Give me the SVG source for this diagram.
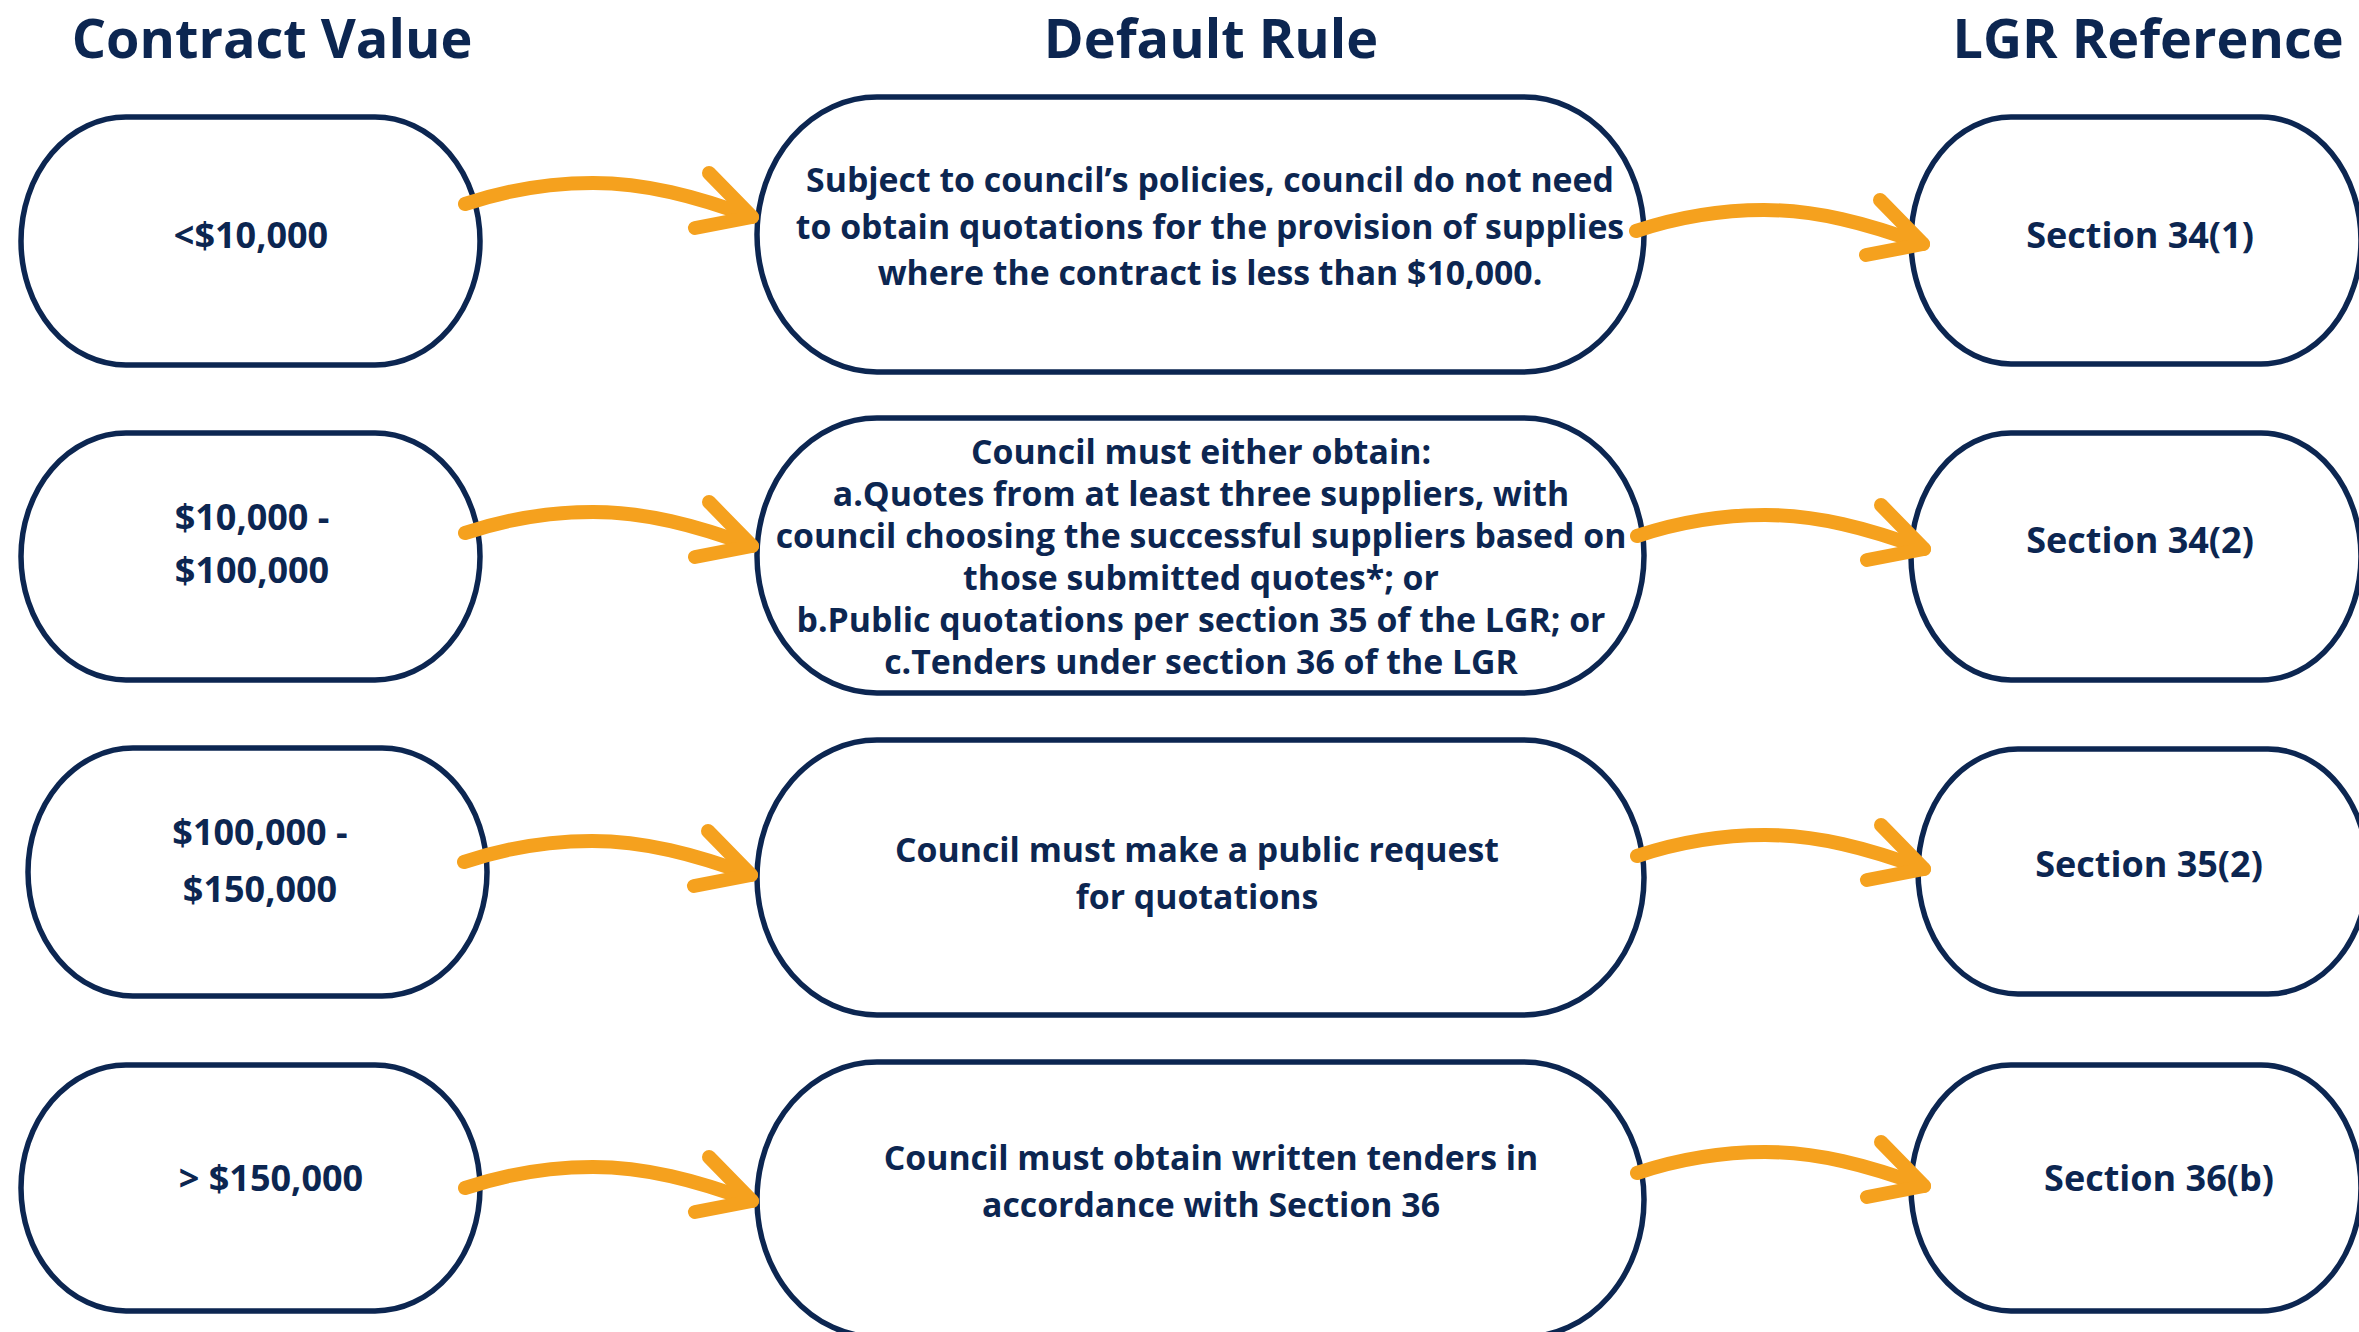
<svg xmlns="http://www.w3.org/2000/svg" width="2359" height="1332" viewBox="0 0 2359 1332">
<defs>
<style>
.bg{fill:#ffffff}
.node{fill:#ffffff;stroke:#0c2651;stroke-width:5.5}
.t{font-family:"Open Sans","Noto Sans","Liberation Sans",sans-serif;font-weight:700;fill:#0c2651;text-anchor:middle}
.title{font-size:54px}
.side{font-size:36px}
.mid{font-size:33.8px}
.arr{fill:none;stroke:#f5a11e;stroke-width:14;stroke-linecap:round;stroke-linejoin:round}
</style>
<g id="arrow-shape">
<path class="arr" d="M0,0 C45,-15 90,-21 128,-21 C180,-21 230,-8 287,13"/>
<path class="arr" d="M244,-31 L287,13 L230,24"/>
</g>
</defs>
<rect class="bg" x="0" y="0" width="2359" height="1332"/>

<g id="titles">
<text class="t title" x="272" y="58">Contract Value</text>
<text class="t title" x="1211" y="58">Default Rule</text>
<text class="t title" x="2148" y="58">LGR Reference</text>
</g>

<g id="value-1">
<rect class="node" x="21" y="117" width="459" height="248" rx="105" ry="124"/>
<text class="t side" x="251" y="248">&lt;$10,000</text>
</g>
<g id="rule-1">
<rect class="node" x="757" y="97" width="887" height="275" rx="120" ry="137.5"/>
<text class="t mid" x="1210" y="192">Subject to council’s policies, council do not need</text>
<text class="t mid" x="1210" y="239">to obtain quotations for the provision of supplies</text>
<text class="t mid" x="1210" y="285">where the contract is less than $10,000.</text>
</g>
<g id="ref-1">
<rect class="node" x="1911" y="117" width="450" height="247" rx="100" ry="123.5"/>
<text class="t side" x="2140" y="248">Section 34(1)</text>
</g>

<g id="value-2">
<rect class="node" x="21" y="433" width="459" height="247" rx="105" ry="123.5"/>
<text class="t side" x="252" y="530">$10,000 -</text>
<text class="t side" x="252" y="583">$100,000</text>
</g>
<g id="rule-2">
<rect class="node" x="757" y="418" width="887" height="275" rx="120" ry="137.5"/>
<text class="t mid" x="1201" y="464">Council must either obtain:</text>
<text class="t mid" x="1201" y="506">a.Quotes from at least three suppliers, with</text>
<text class="t mid" x="1201" y="548">council choosing the successful suppliers based on</text>
<text class="t mid" x="1201" y="590">those submitted quotes*; or</text>
<text class="t mid" x="1201" y="632">b.Public quotations per section 35 of the LGR; or</text>
<text class="t mid" x="1201" y="674">c.Tenders under section 36 of the LGR</text>
</g>
<g id="ref-2">
<rect class="node" x="1911" y="433" width="450" height="247" rx="100" ry="123.5"/>
<text class="t side" x="2140" y="553">Section 34(2)</text>
</g>

<g id="value-3">
<rect class="node" x="28" y="748" width="459" height="248" rx="105" ry="124"/>
<text class="t side" x="260" y="845">$100,000 -</text>
<text class="t side" x="260" y="902">$150,000</text>
</g>
<g id="rule-3">
<rect class="node" x="757" y="740" width="887" height="275" rx="120" ry="137.5"/>
<text class="t mid" x="1197" y="862">Council must make a public request</text>
<text class="t mid" x="1197" y="909">for quotations</text>
</g>
<g id="ref-3">
<rect class="node" x="1918" y="749" width="450" height="245" rx="100" ry="122.5"/>
<text class="t side" x="2149" y="877">Section 35(2)</text>
</g>

<g id="value-4">
<rect class="node" x="21" y="1065" width="459" height="246" rx="105" ry="123"/>
<text class="t side" x="271" y="1191">&gt; $150,000</text>
</g>
<g id="rule-4">
<rect class="node" x="757" y="1062" width="887" height="275" rx="120" ry="137.5"/>
<text class="t mid" x="1211" y="1170">Council must obtain written tenders in</text>
<text class="t mid" x="1211" y="1217">accordance with Section 36</text>
</g>
<g id="ref-4">
<rect class="node" x="1911" y="1065" width="450" height="246" rx="100" ry="123"/>
<text class="t side" x="2159" y="1191">Section 36(b)</text>
</g>

<g id="connectors">
<use href="#arrow-shape" transform="translate(465,204)"/>
<use href="#arrow-shape" transform="translate(1636,231)"/>
<use href="#arrow-shape" transform="translate(465,533)"/>
<use href="#arrow-shape" transform="translate(1637,536)"/>
<use href="#arrow-shape" transform="translate(464,862)"/>
<use href="#arrow-shape" transform="translate(1637,856)"/>
<use href="#arrow-shape" transform="translate(465,1188)"/>
<use href="#arrow-shape" transform="translate(1637,1173)"/>
</g>
</svg>
